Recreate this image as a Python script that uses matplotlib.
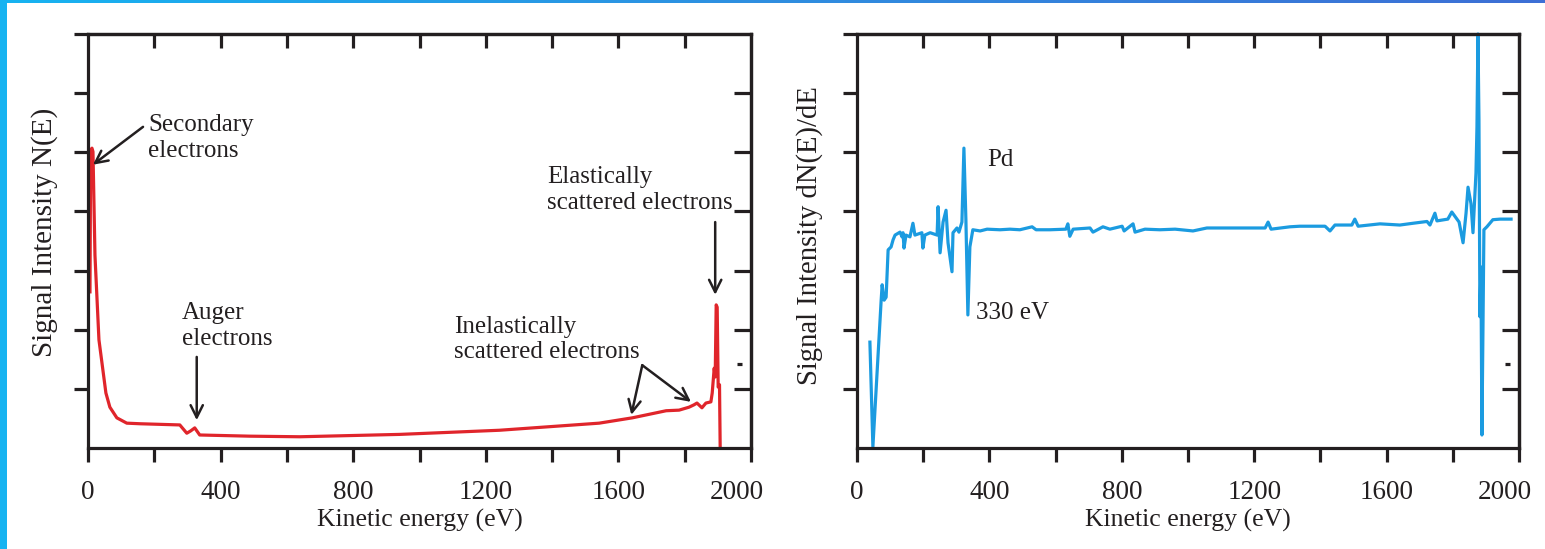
import numpy as np
import matplotlib
matplotlib.use("Agg")
import matplotlib.pyplot as plt
from matplotlib.patches import Rectangle
from matplotlib.lines import Line2D
from matplotlib.transforms import ScaledTranslation
from matplotlib.colors import LinearSegmentedColormap

plt.rcParams['font.family'] = ['Liberation Serif', 'DejaVu Serif']

# ---------------- data ----------------
# Left panel: N(E) spectrum (kinetic energy eV, intensity in tick units 0..7)
n_energy = [6, 8, 12, 15, 21, 33, 54, 66, 87, 117, 157, 277, 298, 310, 322, 337,
            488, 639, 940, 1241, 1542, 1642, 1693, 1744, 1783, 1813, 1828, 1837,
            1852, 1864, 1879, 1883, 1889, 1892, 1895, 1898, 1901, 1905, 1907]
n_signal = [2.64, 5.04, 5.07, 5.01, 3.26, 1.83, 0.93, 0.69, 0.51, 0.42, 0.41, 0.39,
            0.25, 0.29, 0.34, 0.22, 0.20, 0.19, 0.23, 0.30, 0.42, 0.51, 0.57, 0.63,
            0.64, 0.69, 0.73, 0.76, 0.68, 0.76, 0.78, 0.93, 1.35, 1.20, 2.42, 2.38,
            1.03, 1.07, 0.02]

# Right panel: dN(E)/dE spectrum
d_energy = [39, 48, 73, 76, 82, 88, 94, 103, 109, 115, 130, 136, 139, 142, 148, 160,
            169, 175, 196, 199, 205, 221, 242, 245, 251, 260, 269, 275, 287, 290, 302,
            308, 317, 323, 329, 335, 341, 350, 372, 393, 432, 462, 492, 529, 541, 583,
            631, 637, 643, 653, 704, 713, 743, 764, 801, 807, 834, 840, 870, 915, 961,
            1015, 1057, 1097, 1157, 1233, 1242, 1251, 1308, 1338, 1414, 1429, 1444,
            1495, 1504, 1514, 1580, 1640, 1680, 1722, 1731, 1746, 1752, 1785, 1797,
            1819, 1831, 1840, 1846, 1855, 1861, 1870, 1873, 1876, 1879, 1882, 1885,
            1888, 1894, 1903, 1921, 1943, 1976]
d_signal = [1.79, 0.02, 2.50, 2.76, 2.50, 2.55, 3.35, 3.40, 3.52, 3.60, 3.65, 3.57,
            3.64, 3.38, 3.60, 3.57, 3.80, 3.60, 3.64, 3.38, 3.60, 3.64, 3.60, 4.08,
            3.30, 3.82, 4.02, 3.47, 2.98, 3.64, 3.72, 3.65, 3.82, 5.07, 3.86, 2.25,
            3.40, 3.69, 3.67, 3.70, 3.69, 3.70, 3.69, 3.74, 3.69, 3.69, 3.70, 3.79,
            3.58, 3.70, 3.72, 3.65, 3.74, 3.70, 3.75, 3.67, 3.79, 3.65, 3.70, 3.69,
            3.70, 3.67, 3.72, 3.72, 3.72, 3.72, 3.82, 3.70, 3.74, 3.75, 3.75, 3.67,
            3.77, 3.77, 3.87, 3.75, 3.79, 3.77, 3.80, 3.83, 3.77, 3.97, 3.84, 3.87,
            3.99, 3.82, 3.47, 3.97, 4.41, 4.13, 3.64, 4.65, 5.43, 7.00, 5.55, 2.22,
            3.06, 0.22, 3.69, 3.74, 3.86, 3.87, 3.87]

x_ticks = list(range(0, 2001, 200))
x_tick_labels = ['0', '', '400', '', '800', '', '1200', '', '1600', '', '2000']
x_label = 'Kinetic energy (eV)'
y_label_left = 'Signal Intensity N(E)'
y_label_right = 'Signal Intensity dN(E)/dE'

RED = '#e0252b'
BLUE = '#1b9be0'
INK = '#231f20'
FS_TICK = 19.5
FS_XLAB = 18.5
FS_YLAB = 21
FS_ANN = 18

fig = plt.figure(figsize=(15.45, 5.49), dpi=100)
W, H = 1545, 549

def fpos(x0, x1, ytop, ybot):
    return [x0 / W, 1 - ybot / H, (x1 - x0) / W, (ybot - ytop) / H]

axL = fig.add_axes(fpos(88, 751, 34, 448))
axR = fig.add_axes(fpos(857, 1519, 34, 448))

def style(ax, ylabel, ylab_coords, ylab_size):
    ax.set_xlim(0, 2000)
    ax.set_ylim(0, 7)
    for s in ax.spines.values():
        s.set_linewidth(2.3)
        s.set_color(INK)
    ax.set_xticks(x_ticks)
    ax.set_xticklabels(x_tick_labels)
    ax.tick_params(axis='x', direction='out', length=10, width=2.3, color=INK,
                   labelsize=FS_TICK, labelcolor=INK, pad=13)
    ax.set_yticks(range(1, 8))
    ax.set_yticklabels([])
    ax.tick_params(axis='y', direction='out', length=10, width=2.3, color=INK)
    top = ax.secondary_xaxis('top')
    top.set_xticks(x_ticks[1:-1])
    top.tick_params(direction='in', length=10, width=2.3, color=INK, labeltop=False)
    top.spines['top'].set_linewidth(2.3)
    right = ax.secondary_yaxis('right')
    right.set_yticks(range(1, 7))
    right.tick_params(direction='in', length=12, width=2.3, color=INK, labelright=False)
    right.spines['right'].set_linewidth(2.3)
    ax.set_xlabel(x_label, fontsize=FS_XLAB, color=INK, labelpad=3)
    ax.set_ylabel(ylabel, fontsize=ylab_size, color=INK)
    ax.yaxis.set_label_coords(*ylab_coords)
    # shift last tick label left
    lbl = ax.get_xticklabels()[-1]
    lbl.set_transform(lbl.get_transform() + ScaledTranslation(-14 / 100, 0, fig.dpi_scale_trans))
    # small dash artifact near right spine
    ax.add_line(Line2D([0.979, 0.987], [0.203, 0.203], transform=ax.transAxes,
                       color=INK, lw=2.3, solid_capstyle='butt'))

style(axL, y_label_left, (-0.0452, 0.522), FS_YLAB)
style(axR, y_label_right, (-0.0514, 0.512), 20.6)

axL.plot(n_energy, n_signal, color=RED, lw=2.3, solid_joinstyle='round')
axR.plot(d_energy, d_signal, color=BLUE, lw=2.3, solid_joinstyle='round', clip_on=False)

arrow_kw = dict(arrowstyle='->', color=INK, lw=1.8, mutation_scale=22,
                shrinkA=0, shrinkB=0)

# annotations left
axL.text(181, 5.24, 'Secondary\nelectrons', fontsize=FS_ANN, color=INK,
         ha='left', va='center', linespacing=1.2)
axL.annotate('', xy=(15, 4.79), xytext=(166, 5.43), arrowprops=arrow_kw)
axL.text(283, 2.06, 'Auger\nelectrons', fontsize=FS_ANN, color=INK,
         ha='left', va='center', linespacing=1.2)
axL.annotate('', xy=(328, 0.47), xytext=(328, 1.54), arrowprops=arrow_kw)
axL.text(1105, 1.83, 'Inelastically\nscattered electrons', fontsize=FS_ANN, color=INK,
         ha='left', va='center', linespacing=1.2)
axL.annotate('', xy=(1639, 0.56), xytext=(1672, 1.40), arrowprops=arrow_kw)
axL.annotate('', xy=(1819, 0.78), xytext=(1672, 1.40), arrowprops=arrow_kw)
axL.text(1386, 4.36, 'Elastically\nscattered electrons', fontsize=FS_ANN, color=INK,
         ha='left', va='center', linespacing=1.2)
axL.annotate('', xy=(1892, 2.59), xytext=(1892, 3.82), arrowprops=arrow_kw)

# annotations right
axR.text(393, 4.87, 'Pd', fontsize=FS_ANN, color=INK, ha='left', va='center')
axR.text(360, 2.28, '330 eV', fontsize=FS_ANN, color=INK, ha='left', va='center')

# decorative frame: left cyan bar and top gradient line
fig.add_artist(Rectangle((0, 0), 7 / W, 1, transform=fig.transFigure,
                         color='#17b3f1', lw=0, zorder=10))
axbar = fig.add_axes([0, 1 - 3 / H, 1, 3 / H])
grad = np.linspace(0, 1, 256).reshape(1, -1)
cm = LinearSegmentedColormap.from_list('bar', ['#17b3f1', '#2f8ee0', '#3d6fd5'])
axbar.imshow(grad, aspect='auto', cmap=cm, extent=[0, 1, 0, 1])
axbar.set_axis_off()

fig.savefig('out.png', dpi=100)
